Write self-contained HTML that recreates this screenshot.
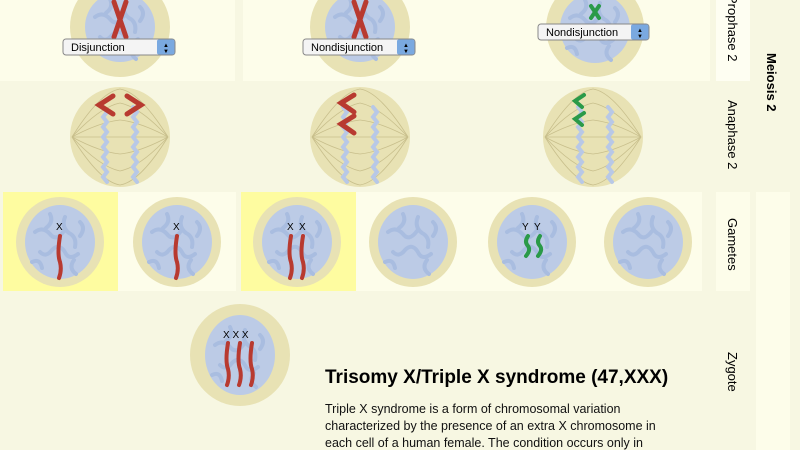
<!DOCTYPE html>
<html><head><style>
html,body{margin:0;padding:0;width:800px;height:450px;overflow:hidden;background:#f7f7e2;}
svg{display:block}
text{font-family:"Liberation Sans",sans-serif;}
</style></head><body>
<svg width="800" height="450" viewBox="0 0 800 450">
<defs>
<g id="chrom" fill="none" stroke="#a9bde0" stroke-width="4" stroke-linecap="round">
<path d="M-25,-10 q8,-6 15,2 q6,8 14,-3"/><path d="M-20,10 q6,6 12,-2 q8,-8 14,4 q4,6 12,0"/>
<path d="M5,-25 q-4,10 4,16 q8,4 6,14"/><path d="M-10,-28 q4,8 -4,14"/><path d="M14,18 q-6,8 2,14"/>
<path d="M-28,20 q8,-4 10,6"/><path d="M20,-20 q6,6 0,14"/>
</g>
<g id="spindle" fill="none" stroke="#c8bf8c" stroke-width="0.8">
<path d="M-48,0 Q-20,-45 0,-48"/><path d="M-48,0 Q-20,-30 0,-34"/><path d="M-48,0 Q-20,-15 0,-17"/><path d="M-48,0 L0,0"/><path d="M-48,0 Q-20,15 0,17"/><path d="M-48,0 Q-20,30 0,34"/><path d="M-48,0 Q-20,45 0,48"/>
<path d="M48,0 Q20,-45 0,-48"/><path d="M48,0 Q20,-30 0,-34"/><path d="M48,0 Q20,-15 0,-17"/><path d="M48,0 L0,0"/><path d="M48,0 Q20,15 0,17"/><path d="M48,0 Q20,30 0,34"/><path d="M48,0 Q20,45 0,48"/>
</g>
<path id="wave" d="M0,-38 l4,5 l-4,5 l4,5 l-4,5 l4,5 l-4,5 l4,5 l-4,5 l4,5 l-4,5 l4,5 l-4,5 l4,5 l-4,5 l4,5" fill="none" stroke="#b8c8e6" stroke-width="4" stroke-linecap="round"/>
</defs>

<!-- row backgrounds -->
<rect x="0" y="0" width="235" height="81" fill="#fdfdea"/>
<rect x="243" y="0" width="467" height="81" fill="#fdfdea"/>
<rect x="716" y="0" width="34" height="81" fill="#fefef2"/>
<rect x="0" y="190" width="3" height="101" fill="#f7f7e2"/>
<rect x="3" y="192" width="115" height="99" fill="#fefca0"/>
<rect x="118" y="192" width="118" height="99" fill="#fdfdea"/>
<rect x="241" y="192" width="115" height="99" fill="#fefca0"/>
<rect x="356" y="192" width="346" height="99" fill="#fdfdea"/>
<rect x="716" y="192" width="34" height="99" fill="#fdfdea"/>
<rect x="756" y="192" width="34" height="258" fill="#fdfdea"/>

<!-- prophase cells -->
<g transform="translate(120,27)"><circle r="50" fill="#e8e2b4"/><circle r="35" fill="#bccbe6"/><use href="#chrom"/>
<path d="M-6,-25 L6,10 M6,-25 L-6,10" stroke="#b83a30" stroke-width="5" stroke-linecap="round"/></g>
<g transform="translate(360,27)"><circle r="50" fill="#e8e2b4"/><circle r="35" fill="#bccbe6"/><use href="#chrom"/>
<path d="M-6,-25 L6,10 M6,-25 L-6,10" stroke="#b83a30" stroke-width="5" stroke-linecap="round"/></g>
<g transform="translate(595,28)"><circle r="49" fill="#e8e2b4"/><circle r="35" fill="#bccbe6"/><use href="#chrom"/>
<path d="M-4,-22 L4,-10 M4,-22 L-4,-10" stroke="#2a9a48" stroke-width="4" stroke-linecap="round"/></g>

<!-- selects -->
<g transform="translate(63,39)"><rect width="112" height="16" rx="3" fill="#f4f4f4" stroke="#888"/><rect x="94" y="0.5" width="17.5" height="15" rx="2" fill="#7aa9e0"/><text x="8" y="12" font-size="11">Disjunction</text><text x="100" y="8" font-size="6">▲</text><text x="100" y="14" font-size="6">▼</text></g>
<g transform="translate(303,39)"><rect width="112" height="16" rx="3" fill="#f4f4f4" stroke="#888"/><rect x="94" y="0.5" width="17.5" height="15" rx="2" fill="#7aa9e0"/><text x="8" y="12" font-size="11">Nondisjunction</text><text x="100" y="8" font-size="6">▲</text><text x="100" y="14" font-size="6">▼</text></g>
<g transform="translate(538,24)"><rect width="111" height="16" rx="3" fill="#f4f4f4" stroke="#888"/><rect x="93" y="0.5" width="17.5" height="15" rx="2" fill="#7aa9e0"/><text x="8" y="12" font-size="11">Nondisjunction</text><text x="99" y="8" font-size="6">▲</text><text x="99" y="14" font-size="6">▼</text></g>

<!-- anaphase -->
<g transform="translate(120,137)"><circle r="50" fill="#e8e2b4"/><use href="#spindle"/>
<use href="#wave" transform="translate(-17,8)"/><use href="#wave" transform="translate(13,8)"/>
<path d="M-7,-41 L-21,-32 L-7,-23 M7,-41 L21,-32 L7,-23" fill="none" stroke="#b83a30" stroke-width="5" stroke-linecap="round"/></g>
<g transform="translate(360,137)"><circle r="50" fill="#e8e2b4"/><use href="#spindle"/>
<use href="#wave" transform="translate(-17,8)"/><use href="#wave" transform="translate(13,8)"/>
<path d="M-6,-42 L-19,-34 L-6,-25 M-6,-21 L-19,-13 L-6,-4" fill="none" stroke="#b83a30" stroke-width="5" stroke-linecap="round"/></g>
<g transform="translate(593,137)"><circle r="50" fill="#e8e2b4"/><use href="#spindle"/>
<use href="#wave" transform="translate(-15,8)"/><use href="#wave" transform="translate(15,8)"/>
<path d="M-9,-42 L-18,-36 L-11,-30 M-9,-24 L-18,-18 L-11,-12" fill="none" stroke="#2a9a48" stroke-width="4" stroke-linecap="round"/></g>

<!-- gametes -->
<g transform="translate(60,242)"><ellipse rx="44" ry="45" fill="#e8e2b4"/><ellipse rx="35" ry="37" fill="#bccbe6"/><use href="#chrom"/><text x="-4" y="-12" font-size="10">X</text><path d="M0,-6 q-3,18 0,26 q2,8 -1,16" stroke="#b83a30" stroke-width="4" fill="none" stroke-linecap="round"/></g>
<g transform="translate(177,242)"><ellipse rx="44" ry="45" fill="#e8e2b4"/><ellipse rx="35" ry="37" fill="#bccbe6"/><use href="#chrom"/><text x="-4" y="-12" font-size="10">X</text><path d="M0,-6 q-3,18 0,26 q2,8 -1,16" stroke="#b83a30" stroke-width="4" fill="none" stroke-linecap="round"/></g>
<g transform="translate(297,242)"><ellipse rx="44" ry="45" fill="#e8e2b4"/><ellipse rx="35" ry="37" fill="#bccbe6"/><use href="#chrom"/><text x="-10" y="-12" font-size="10">X</text><text x="2" y="-12" font-size="10">X</text><path d="M-6,-6 q-3,18 0,26 q2,8 -1,16 M6,-6 q-3,18 0,26 q2,8 -1,16" stroke="#b83a30" stroke-width="4" fill="none" stroke-linecap="round"/></g>
<g transform="translate(413,242)"><ellipse rx="44" ry="45" fill="#e8e2b4"/><ellipse rx="35" ry="37" fill="#bccbe6"/><use href="#chrom"/></g>
<g transform="translate(532,242)"><ellipse rx="44" ry="45" fill="#e8e2b4"/><ellipse rx="35" ry="37" fill="#bccbe6"/><use href="#chrom"/><text x="-10" y="-12" font-size="10">Y</text><text x="2" y="-12" font-size="10">Y</text><path d="M-4,-6 q-4,6 0,10 q3,4 -2,10 M8,-6 q-4,6 0,10 q3,4 -2,10" stroke="#2a9a48" stroke-width="4" fill="none" stroke-linecap="round"/></g>
<g transform="translate(648,242)"><ellipse rx="44" ry="45" fill="#e8e2b4"/><ellipse rx="35" ry="37" fill="#bccbe6"/><use href="#chrom"/></g>

<!-- zygote -->
<g transform="translate(240,355)"><ellipse rx="50" ry="51" fill="#e8e2b4"/><ellipse rx="35" ry="40" fill="#bccbe6"/><use href="#chrom"/>
<text x="-17" y="-17" font-size="10">X X X</text>
<path d="M-12,-12 q-3,18 0,26 q2,8 -1,16 M0,-12 q-3,18 0,26 q2,8 -1,16 M12,-12 q-3,18 0,26 q2,8 -1,16" stroke="#b83a30" stroke-width="4" fill="none" stroke-linecap="round"/></g>

<text x="325" y="383" font-size="19" font-weight="bold">Trisomy X/Triple X syndrome (47,XXX)</text>
<text font-size="12.5" fill="#111"><tspan x="325" y="413">Triple X syndrome is a form of chromosomal variation</tspan><tspan x="325" y="430">characterized by the presence of an extra X chromosome in</tspan><tspan x="325" y="447">each cell of a human female. The condition occurs only in</tspan></text>

<!-- labels -->
<g font-size="13">
<text transform="translate(728,0) rotate(90)" x="-5" y="0">Prophase 2</text>
<text transform="translate(728,100) rotate(90)">Anaphase 2</text>
<text transform="translate(728,218) rotate(90)">Gametes</text>
<text transform="translate(728,352) rotate(90)">Zygote</text>
<text transform="translate(767,53) rotate(90)" font-weight="bold">Meiosis 2</text>
</g>
</svg>
</body></html>
